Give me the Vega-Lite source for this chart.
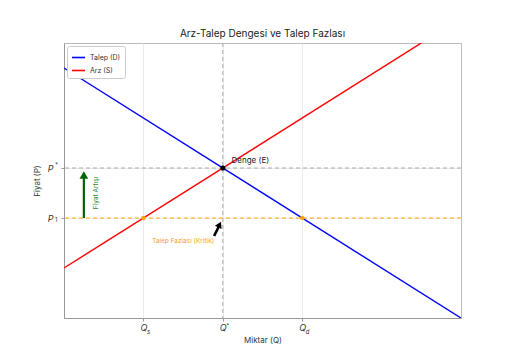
{
  "$schema": "https://vega.github.io/schema/vega-lite/v6.json",
  "width": 397,
  "height": 275,
  "autosize": {"type": "none"},
  "padding": {"left": 64, "top": 43, "right": 51, "bottom": 40},
  "background": "white",
  "config": {
    "font": "Inter",
    "view": {"stroke": "#bbbbbb", "strokeWidth": 1},
    "axis": {"domainColor": "#999999", "tickColor": "#999999", "labelColor": "#333333", "titleColor": "#333333", "titleFontWeight": "normal", "titleFontSize": 8, "labelFontSize": 9}
  },
  "title": {"text": "Arz-Talep Dengesi ve Talep Fazlası", "fontSize": 10, "fontWeight": "normal", "color": "#222222", "offset": 4, "anchor": "middle"},
  "datasets": {
    "lines": [
      {"q": 0, "p": 10, "s": "Talep (D)"},
      {"q": 10, "p": 0, "s": "Talep (D)"},
      {"q": 0, "p": 2, "s": "Arz (S)"},
      {"q": 10, "p": 12, "s": "Arz (S)"}
    ],
    "xsub": [
      {"q": 2, "t": "s"},
      {"q": 6, "t": "d"}
    ],
    "ysub": [
      {"p": 4, "t": "1"}
    ]
  },
  "layer": [
    {
      "data": {"name": "lines"},
      "mark": {"type": "line", "clip": true, "strokeWidth": 1.4},
      "encoding": {
        "x": {"field": "q", "type": "quantitative", "scale": {"domain": [0, 10], "nice": false, "zero": false},
          "axis": {"values": [2, 4, 6], "labelExpr": "'Q'", "labelFontStyle": "italic", "labelDx": -3, "tickSize": 3, "labelPadding": 2, "grid": true, "gridColor": "#e6e6e6", "gridWidth": 0.8, "title": "Miktar (Q)", "titlePadding": 4}},
        "y": {"field": "p", "type": "quantitative", "scale": {"domain": [0, 11], "nice": false, "zero": false},
          "axis": {"values": [4, 6], "labelExpr": "'P'", "labelFontStyle": "italic", "tickSize": 3, "labelPadding": 8, "grid": true, "gridColor": "#e6e6e6", "gridWidth": 0.8, "title": "Fiyat (P)", "titlePadding": 6}},
        "color": {"field": "s", "type": "nominal", "scale": {"domain": ["Talep (D)", "Arz (S)"], "range": ["#0000ff", "#ff0000"]},
          "legend": {"title": null, "orient": "top-left", "offset": 3, "symbolType": "stroke", "symbolSize": 170, "symbolStrokeWidth": 1.6, "labelFontSize": 7, "padding": 4, "rowPadding": 2, "strokeColor": "#cccccc", "fillColor": "white", "cornerRadius": 2, "labelColor": "#333333"}}
      }
    },
    {
      "data": {"values": [{"p": 6}]},
      "mark": {"type": "rule", "color": "#aaaaaa", "strokeDash": [4, 3], "strokeWidth": 1},
      "encoding": {"y": {"field": "p", "type": "quantitative"}}
    },
    {
      "data": {"values": [{"q": 4}]},
      "mark": {"type": "rule", "color": "#aaaaaa", "strokeDash": [4, 3], "strokeWidth": 1},
      "encoding": {"x": {"field": "q", "type": "quantitative"}}
    },
    {
      "data": {"values": [{"p": 4}]},
      "mark": {"type": "rule", "color": "#ffa500", "strokeDash": [4, 3], "strokeWidth": 1},
      "encoding": {"y": {"field": "p", "type": "quantitative"}}
    },
    {
      "data": {"values": [{"q": 2, "p": 4}, {"q": 6, "p": 4}]},
      "mark": {"type": "point", "filled": true, "color": "#ffa500", "size": 22, "opacity": 0.9},
      "encoding": {"x": {"field": "q", "type": "quantitative"}, "y": {"field": "p", "type": "quantitative"}}
    },
    {
      "data": {"values": [{"q": 4, "p": 6}]},
      "mark": {"type": "point", "filled": true, "color": "black", "size": 26, "opacity": 1},
      "encoding": {"x": {"field": "q", "type": "quantitative"}, "y": {"field": "p", "type": "quantitative"}}
    },
    {
      "data": {"values": [{"q": 4.22, "p": 6.3, "t": "Denge (E)"}]},
      "mark": {"type": "text", "align": "left", "baseline": "middle", "fontSize": 8, "color": "#222222"},
      "encoding": {"x": {"field": "q", "type": "quantitative"}, "y": {"field": "p", "type": "quantitative"}, "text": {"field": "t"}}
    },
    {
      "data": {"values": [{"q": 0.5, "p": 4.0, "q2": 0.5, "p2": 5.6}]},
      "mark": {"type": "rule", "color": "#006400", "strokeWidth": 2.2},
      "encoding": {"x": {"field": "q", "type": "quantitative"}, "y": {"field": "p", "type": "quantitative"}, "y2": {"field": "p2"}}
    },
    {
      "data": {"values": [{"q": 0.5, "p": 5.72}]},
      "mark": {"type": "point", "shape": "triangle-up", "filled": true, "color": "#006400", "size": 75, "opacity": 1},
      "encoding": {"x": {"field": "q", "type": "quantitative"}, "y": {"field": "p", "type": "quantitative"}}
    },
    {
      "data": {"values": [{"q": 0.8, "p": 5.0, "t": "Fiyat Artışı"}]},
      "mark": {"type": "text", "angle": 270, "align": "center", "baseline": "middle", "fontSize": 6.5, "color": "#2e8b2e"},
      "encoding": {"x": {"field": "q", "type": "quantitative"}, "y": {"field": "p", "type": "quantitative"}, "text": {"field": "t"}}
    },
    {
      "data": {"values": [{"q": 3.78, "p": 3.28, "q2": 3.9, "p2": 3.66}]},
      "mark": {"type": "rule", "color": "black", "strokeWidth": 2.6},
      "encoding": {"x": {"field": "q", "type": "quantitative"}, "y": {"field": "p", "type": "quantitative"}, "x2": {"field": "q2"}, "y2": {"field": "p2"}}
    },
    {
      "data": {"values": [{"q": 3.92, "p": 3.74}]},
      "mark": {"type": "point", "shape": "triangle-up", "filled": true, "color": "black", "size": 55, "angle": 27, "opacity": 1},
      "encoding": {"x": {"field": "q", "type": "quantitative"}, "y": {"field": "p", "type": "quantitative"}}
    },
    {
      "data": {"values": [{"q": 3.0, "p": 3.08, "t": "Talep Fazlası (Kritik)"}]},
      "mark": {"type": "text", "align": "center", "baseline": "middle", "fontSize": 6.5, "color": "#f5a030"},
      "encoding": {"x": {"field": "q", "type": "quantitative"}, "y": {"field": "p", "type": "quantitative"}, "text": {"field": "t"}}
    },
    {
      "data": {"name": "xsub"},
      "mark": {"type": "text", "align": "left", "baseline": "middle", "fontSize": 6, "fontStyle": "italic", "dx": 3.5, "dy": 14, "color": "#333333"},
      "encoding": {"x": {"field": "q", "type": "quantitative"}, "y": {"datum": 0, "type": "quantitative"}, "text": {"field": "t"}}
    },
    {
      "data": {"values": [{"q": 4, "t": "*"}]},
      "mark": {"type": "text", "align": "left", "baseline": "middle", "fontSize": 6, "dx": 3.5, "dy": 8, "color": "#333333"},
      "encoding": {"x": {"field": "q", "type": "quantitative"}, "y": {"datum": 0, "type": "quantitative"}, "text": {"field": "t"}}
    },
    {
      "data": {"name": "ysub"},
      "mark": {"type": "text", "align": "left", "baseline": "middle", "fontSize": 6, "dx": -9, "dy": 2, "color": "#333333"},
      "encoding": {"x": {"datum": 0, "type": "quantitative"}, "y": {"field": "p", "type": "quantitative"}, "text": {"field": "t"}}
    },
    {
      "data": {"values": [{"p": 6, "t": "*"}]},
      "mark": {"type": "text", "align": "left", "baseline": "middle", "fontSize": 6, "dx": -9, "dy": -3, "color": "#333333"},
      "encoding": {"x": {"datum": 0, "type": "quantitative"}, "y": {"field": "p", "type": "quantitative"}, "text": {"field": "t"}}
    }
  ]
}
